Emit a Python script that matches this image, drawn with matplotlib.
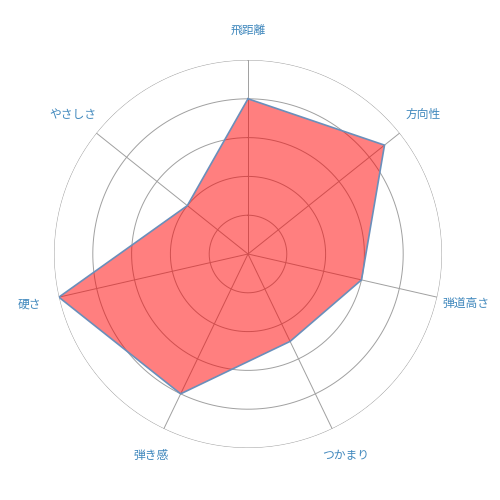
import numpy as np
import matplotlib
matplotlib.use("Agg")
import matplotlib.pyplot as plt

plt.rcParams['font.family'] = ['Noto Sans CJK JP', 'DejaVu Sans']

categories = ["飛距離", "方向性", "弾道高さ", "つかまり", "弾き感", "硬さ", "やさしさ"]
values = [4.0, 4.5, 3.0, 2.5, 4.0, 5.0, 2.0]
rings = [1, 2, 3, 4, 5]

n = len(categories)
angles = np.arange(n) * 2 * np.pi / n

fig = plt.figure(figsize=(5, 5), dpi=100)
ax = fig.add_axes([0.108, 0.104, 0.776, 0.776], projection='polar')
ax.set_theta_zero_location('N')
ax.set_theta_direction(-1)
ax.set_ylim(0, 5)

# grid
theta_full = np.linspace(0, 2 * np.pi, 400)
for r in rings:
    ax.plot(theta_full, [r] * len(theta_full), color='#a0a0a0', lw=0.7, zorder=1)
for a in angles:
    ax.plot([a, a], [0, 5], color='#a0a0a0', lw=0.7, zorder=1)

ax.grid(False)
ax.spines['polar'].set_visible(False)
ax.set_yticklabels([])
ax.set_xticks([])

vals = values + values[:1]
angs = list(angles) + [angles[0]]
ax.fill(angs, vals, color='#ff0000', alpha=0.5, zorder=2, lw=0)
ax.plot(angs, vals, color='#6a8fbb', lw=1.2, zorder=3)

for a, c in zip(angles, categories):
    ax.text(a, 5.77, c, ha='center', va='center', color='#4088bd', fontsize=8.5)

fig.savefig('out.png', dpi=100)
